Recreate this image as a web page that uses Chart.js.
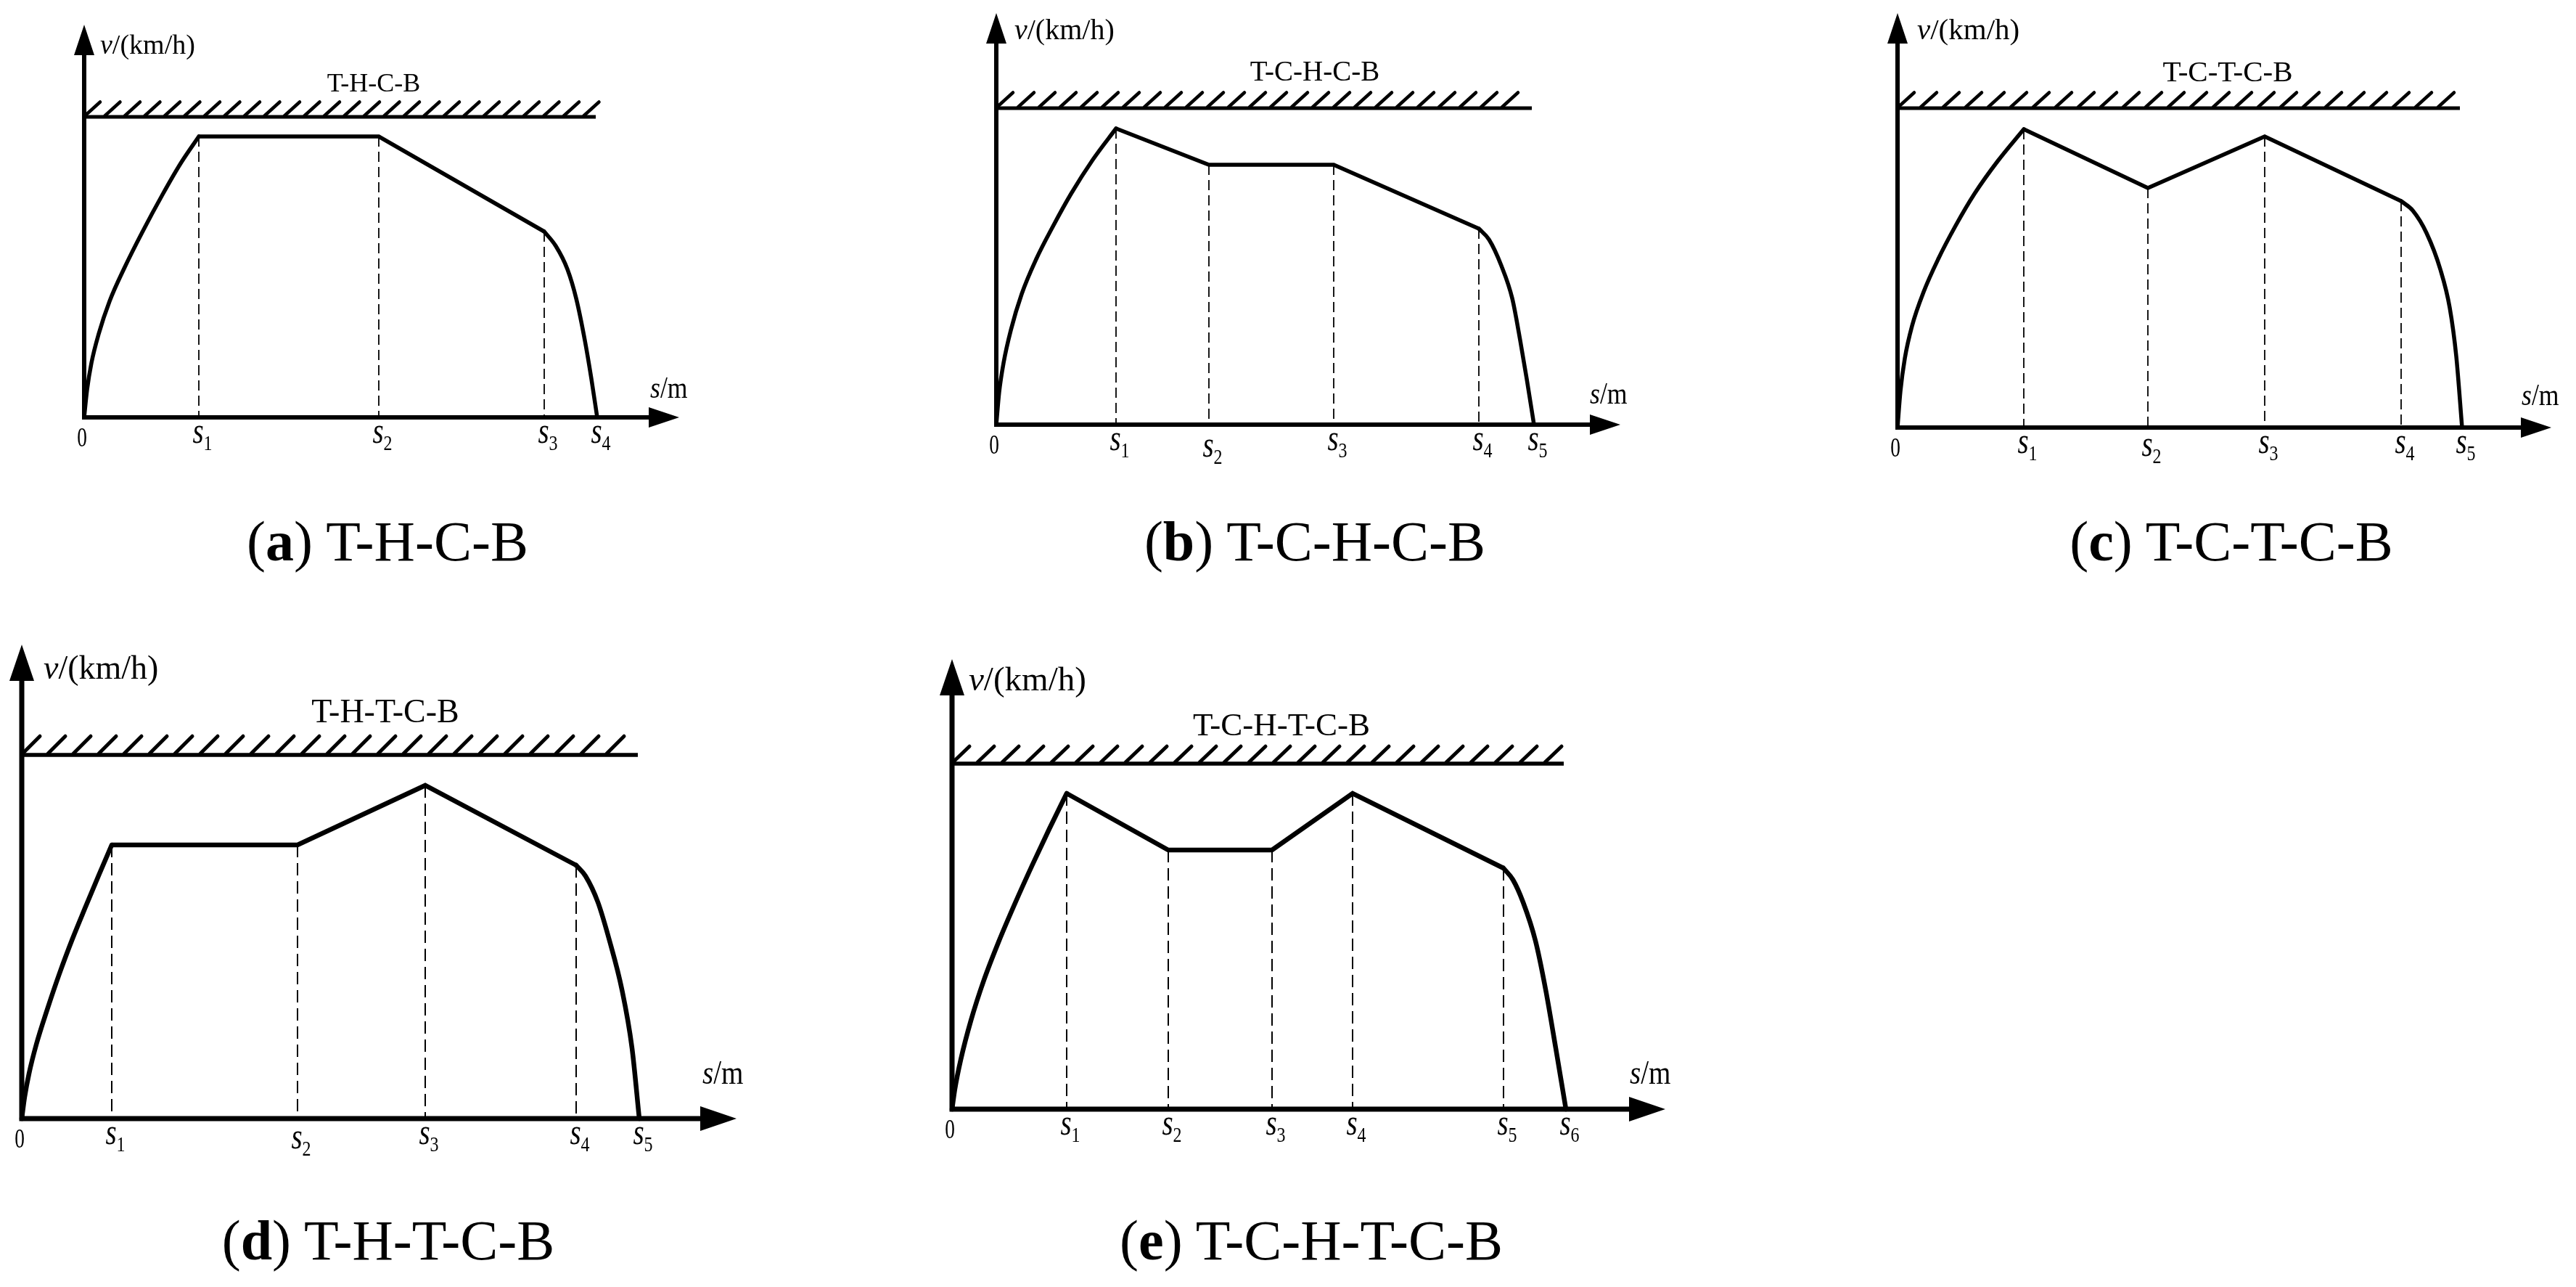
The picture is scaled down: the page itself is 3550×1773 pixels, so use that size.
<!DOCTYPE html>
<html>
<head>
<meta charset="utf-8">
<script src="https://cdn.jsdelivr.net/npm/chart.js@4.4.1/dist/chart.umd.min.js"></script>
<style>
  html, body { margin: 0; padding: 0; background: #fff; }
  #page { position: relative; width: 3550px; height: 1773px; overflow: hidden; background: #fff; }
  #page canvas { position: absolute; }
  .caption {
    position: absolute; width: 900px; text-align: center; white-space: nowrap;
    font-family: "Liberation Serif", serif; font-size: 78px; line-height: 78px; color: #000;
  }
</style>
</head>
<body>
<div id="page"></div>
<script>
// (a) T-H-C-B : distance s and speed v (drawing units)
const aTraction = [[0,0],[4,38],[10,75],[20,115],[35,160],[55,205],[80,255],[108,307],[133,350],[158,387]];
const aCruise   = [[158,387],[406,387],[634,256]];
const aBraking  = [[634,256],[650,236],[666,204],[678,164],[690,106],[699,53],[707,0]];
const aLimit = 414, aLimitEnd = 705;
const aTicks = [0,158,406,634,707];
const aTickLabels = ['0','s1','s2','s3','s4'];

// (b) T-C-H-C-B
const bTraction = [[0,0],[4,45],[10,85],[20,130],[35,180],[55,228],[78,273],[103,318],[133,365],[165,408]];
const bCruise   = [[165,408],[293,358],[465,358],[665,270]];
const bBraking  = [[665,270],[679,255],[696,219],[711,174],[722,116],[731,63],[741,0]];
const bLimit = 436, bLimitEnd = 738;
const bTicks = [0,165,293,465,665,741];
const bTickLabels = ['0','s1','s2','s3','s4','s5'];

// (c) T-C-T-C-B
const cTraction = [[0,0],[4,50],[10,95],[20,140],[36,187],[56,232],[80,278],[106,322],[138,367],[174,411]];
const cCruise   = [[174,411],[345,330],[506,401],[694,312]];
const cBraking  = [[694,312],[710,299],[729,268],[748,218],[761,165],[770,98],[778,0]];
const cLimit = 440, cLimitEnd = 775;
const cTicks = [0,174,345,506,694,778];
const cTickLabels = ['0','s1','s2','s3','s4','s5'];

// (d) T-H-T-C-B
const dTraction = [[0,0],[4,30],[10,62],[20,102],[35,150],[52,200],[70,248],[88,292],[106,335],[124,377]];
const dCruise   = [[124,377],[380,377],[556,459],[764,349]];
const dBraking  = [[764,349],[777,334],[794,298],[810,245],[827,178],[841,97],[851,0]];
const dLimit = 501, dLimitEnd = 849;
const dTicks = [0,124,380,556,764,851];
const dTickLabels = ['0','s1','s2','s3','s4','s5'];

// (e) T-C-H-T-C-B
const eTraction = [[0,0],[4,28],[12,68],[26,122],[44,178],[64,230],[87,284],[110,335],[134,386],[158,435]];
const eCruise   = [[158,435],[298,357],[441,357],[552,435],[760,332]];
const eBraking  = [[760,332],[773,316],[787,285],[804,232],[818,165],[832,84],[846,0]];
const eLimit = 476, eLimitEnd = 843;
const eTicks = [0,158,298,441,552,760,846];
const eTickLabels = ['0','s1','s2','s3','s4','s5','s6'];

const FONT = '"Liberation Serif", "Times New Roman", serif';

// line styles for the small (top row) and large (bottom row) sketches
const topStyle = { axis: 6, curve: 5.5, limit: 5, stroke: 4.5, dash: 1.8, dashPat: [14, 7], arrowL: 42, arrowW: 14, sm: 42 };
const bigStyle = { axis: 7, curve: 6.5, limit: 5.5, stroke: 5, dash: 2, dashPat: [17, 8], arrowL: 50, arrowW: 17, sm: 46 };

const panels = [
    { key: 'a', name: 'T-H-C-B', traction: aTraction, cruise: aCruise, braking: aBraking, limit: aLimit, limitEnd: aLimitEnd,
      ticks: aTicks, tickLabels: aTickLabels, tickDy: [0,0,0,0,0],
      box: { ox: 116, oy: 575, tipX: 936, tipY: 34 }, hatch: { step: 27.5, dx: 21, dy: 19 }, st: topStyle,
      unit: [138, 74, 38], title: [515, 126, 36], sm: [896, 548], cap: [534, 772] },
    { key: 'b', name: 'T-C-H-C-B', traction: bTraction, cruise: bCruise, braking: bBraking, limit: bLimit, limitEnd: bLimitEnd,
      ticks: bTicks, tickLabels: bTickLabels, tickDy: [0,0,9,0,0,0],
      box: { ox: 1373, oy: 585, tipX: 2233, tipY: 18 }, hatch: { step: 29, dx: 22, dy: 20 }, st: topStyle,
      unit: [1398, 54, 40], title: [1812, 111, 39], sm: [2191, 556], cap: [1812, 772] },
    { key: 'c', name: 'T-C-T-C-B', traction: cTraction, cruise: cCruise, braking: cBraking, limit: cLimit, limitEnd: cLimitEnd,
      ticks: cTicks, tickLabels: cTickLabels, tickDy: [0,0,4,0,0,0],
      box: { ox: 2615, oy: 589, tipX: 3516, tipY: 18 }, hatch: { step: 31, dx: 22, dy: 20 }, st: topStyle,
      unit: [2642, 54, 41], title: [3070, 112, 41], sm: [3475, 558], cap: [3075, 772] },
    { key: 'd', name: 'T-H-T-C-B', traction: dTraction, cruise: dCruise, braking: dBraking, limit: dLimit, limitEnd: dLimitEnd,
      ticks: dTicks, tickLabels: dTickLabels, tickDy: [0,0,6,0,0,0],
      box: { ox: 30, oy: 1541, tipX: 1015, tipY: 888 }, hatch: { step: 35, dx: 24, dy: 24 }, st: bigStyle,
      unit: [60, 935, 46], title: [531, 995, 46], sm: [968, 1493], cap: [535, 1735] },
    { key: 'e', name: 'T-C-H-T-C-B', traction: eTraction, cruise: eCruise, braking: eBraking, limit: eLimit, limitEnd: eLimitEnd,
      ticks: eTicks, tickLabels: eTickLabels, tickDy: [0,0,0,0,0,0,0],
      box: { ox: 1312, oy: 1528, tipX: 2295, tipY: 908 }, hatch: { step: 34, dx: 23, dy: 22 }, st: bigStyle,
      unit: [1335, 951, 47], title: [1766, 1013, 45], sm: [2246, 1493], cap: [1807, 1735] }
];

const toXY = arr => arr.map(([x, y]) => ({ x: x, y: y }));

// text made of runs (italic / sub-scripted / squeezed), drawn left to right
function drawRuns(ctx, x, y, runs, align) {
    let total = 0;
    runs.forEach(r => {
        ctx.font = (r.italic ? 'italic ' : '') + r.size + 'px ' + FONT;
        r.w = ctx.measureText(r.text).width * (r.sx || 1);
        total += r.w;
    });
    let cx = align === 'center' ? x - total / 2 : x;
    runs.forEach(r => {
        ctx.save();
        ctx.font = (r.italic ? 'italic ' : '') + r.size + 'px ' + FONT;
        ctx.translate(cx, y + (r.dy || 0));
        ctx.scale(r.sx || 1, 1);
        ctx.fillText(r.text, 0, 0);
        ctx.restore();
        cx += r.w;
    });
}

const sketchPlugin = {
    id: 'sketch',
    afterDatasetsDraw(chart) {
        const p = chart.options.plugins.sketch.panel;
        const st = p.st;
        const ctx = chart.ctx;
        const xs = chart.scales.x, ys = chart.scales.y;
        const X = v => xs.getPixelForValue(v), Y = v => ys.getPixelForValue(v);
        const x0 = X(0), y0 = Y(0), xt = X(xs.max), yt = Y(ys.max);
        const offX = p.canvasLeft, offY = p.canvasTop;

        ctx.save();
        ctx.fillStyle = '#000';
        ctx.strokeStyle = '#000';

        // hatching above the speed limit line
        const hy = Y(p.limit) - st.limit / 2 + 1;
        const hEnd = X(p.limitEnd);
        ctx.lineWidth = st.stroke;
        ctx.lineCap = 'round';
        ctx.beginPath();
        for (let x = x0 + 1; x + p.hatch.dx <= hEnd + 6; x += p.hatch.step) {
            ctx.moveTo(x, hy);
            ctx.lineTo(x + p.hatch.dx, hy - p.hatch.dy);
        }
        ctx.stroke();

        // axes
        ctx.lineCap = 'butt';
        ctx.lineWidth = st.axis;
        ctx.beginPath();
        ctx.moveTo(x0, y0 + st.axis / 2);
        ctx.lineTo(x0, yt + st.arrowL - 1);
        ctx.moveTo(x0 - st.axis / 2, y0);
        ctx.lineTo(xt - st.arrowL + 1, y0);
        ctx.stroke();

        // arrow heads
        ctx.beginPath();
        ctx.moveTo(x0, yt);
        ctx.lineTo(x0 - st.arrowW, yt + st.arrowL);
        ctx.lineTo(x0 + st.arrowW, yt + st.arrowL);
        ctx.closePath();
        ctx.moveTo(xt, y0);
        ctx.lineTo(xt - st.arrowL, y0 - st.arrowW);
        ctx.lineTo(xt - st.arrowL, y0 + st.arrowW);
        ctx.closePath();
        ctx.fill();

        ctx.textBaseline = 'alphabetic';
        ctx.textAlign = 'left';

        // axis names and sequence name
        drawRuns(ctx, p.unit[0] - offX, p.unit[1] - offY, [
            { text: 'v', italic: true, size: p.unit[2] },
            { text: '/(km/h)', size: p.unit[2] }
        ], 'left');
        drawRuns(ctx, p.title[0] - offX, p.title[1] - offY, [{ text: p.name, size: p.title[2] }], 'center');
        drawRuns(ctx, p.sm[0] - offX, p.sm[1] - offY, [
            { text: 's', italic: true, size: st.sm, sx: 0.85 },
            { text: '/m', size: st.sm, sx: 0.85 }
        ], 'left');

        // tick labels along s
        p.ticks.forEach((t, i) => {
            const lab = p.tickLabels[i];
            const tx = X(t);
            const dy = p.tickDy[i] || 0;
            if (lab === '0') {
                drawRuns(ctx, tx - 3, y0 + 40, [{ text: '0', size: 38, sx: 0.72 }], 'center');
            } else {
                drawRuns(ctx, tx + 5, y0 + 35 + dy, [
                    { text: lab[0], italic: true, size: 50, sx: 0.78 },
                    { text: lab.slice(1), size: 30, sx: 0.8, dy: 10 }
                ], 'center');
            }
        });
        ctx.restore();
    }
};

const page = document.getElementById('page');

function buildPanel(p) {
    const padL = 28, padR = 60, padT = 10, padB = 80;
    const b = p.box;
    const w = b.tipX - b.ox + padL + padR;
    const h = b.oy - b.tipY + padT + padB;
    p.canvasLeft = b.ox - padL;
    p.canvasTop = b.tipY - padT;

    const canvas = document.createElement('canvas');
    canvas.width = w;
    canvas.height = h;
    canvas.style.left = p.canvasLeft + 'px';
    canvas.style.top = p.canvasTop + 'px';
    canvas.style.width = w + 'px';
    canvas.style.height = h + 'px';
    page.appendChild(canvas);

    // dashed drop lines from every corner of the cruise/coast profile
    const drops = [];
    p.cruise.forEach(([x, v]) => {
        drops.push({ x: x, y: v }, { x: x, y: 0 }, { x: x, y: null });
    });

    const line = (data, extra) => Object.assign({
        data: data,
        borderColor: '#000',
        borderWidth: p.st.curve,
        pointRadius: 0,
        fill: false,
        clip: false,
        order: 1,
        borderJoinStyle: 'miter',
        borderCapStyle: 'butt'
    }, extra || {});

    new Chart(canvas, {
        type: 'line',
        data: {
            datasets: [
                line(toXY(p.traction), { cubicInterpolationMode: 'monotone', borderCapStyle: 'round' }),
                line(toXY(p.cruise), { tension: 0 }),
                line(toXY(p.braking), { cubicInterpolationMode: 'monotone', borderCapStyle: 'round' }),
                line([{ x: 0, y: p.limit }, { x: p.limitEnd, y: p.limit }], { borderWidth: p.st.limit }),
                line(drops, { borderWidth: p.st.dash, borderDash: p.st.dashPat, spanGaps: false, order: 2 })
            ]
        },
        options: {
            responsive: false,
            animation: false,
            devicePixelRatio: 1,
            events: [],
            layout: { padding: { left: padL, right: padR, top: padT, bottom: padB } },
            plugins: {
                legend: { display: false },
                tooltip: { enabled: false },
                sketch: { panel: p }
            },
            scales: {
                x: { type: 'linear', min: 0, max: b.tipX - b.ox, display: false },
                y: { type: 'linear', min: 0, max: b.oy - b.tipY, display: false }
            }
        },
        plugins: [sketchPlugin]
    });

    // sub-figure caption
    const cap = document.createElement('div');
    cap.className = 'caption';
    cap.style.left = (p.cap[0] - 450) + 'px';
    cap.style.top = (p.cap[1] - 65) + 'px';
    cap.innerHTML = '(<b>' + p.key + '</b>) ' + p.name;
    page.appendChild(cap);
}

panels.forEach(buildPanel);
</script>
</body>
</html>
